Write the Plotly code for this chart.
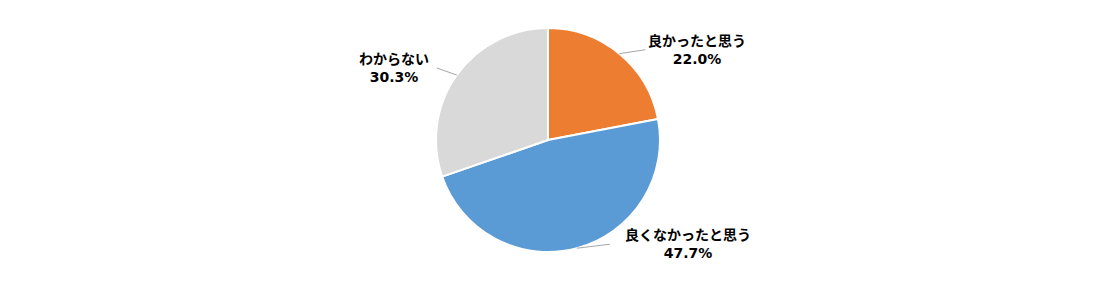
import math
import plotly.graph_objects as go

labels = ["良かったと思う", "良くなかったと思う", "わからない"]
values = [22.0, 47.7, 30.3]
colors = ["#ED7D31", "#5B9BD5", "#D9D9D9"]

W, H = 1099, 296
cx, cy, r = 548, 140, 112

# label layout (pixel offsets of line end and label center from slice edge point)
line_end = [(26, -4), (33, -4), (-20, -7)]
label_center = [(78, -4), (111, -4), (-63, -7)]

def px(x):
    return x / W

def py(y):
    return 1 - y / H

fig = go.Figure(go.Pie(
    labels=labels, values=values, sort=False, direction="clockwise", rotation=0,
    marker=dict(colors=colors, line=dict(color="white", width=2)),
    textinfo="none", hoverinfo="label+percent", showlegend=False,
    domain=dict(x=[px(cx - r), px(cx + r)], y=[py(cy + r), py(cy - r)]),
))

total = sum(values)
cum = 0
shapes, annotations = [], []
for i, v in enumerate(values):
    mid = (cum + v / 2) / total * 2 * math.pi
    cum += v
    ex = cx + r * math.sin(mid)
    ey = cy - r * math.cos(mid)
    lx, ly = ex + line_end[i][0], ey + line_end[i][1]
    shapes.append(dict(type="line", xref="paper", yref="paper",
                       x0=px(ex), y0=py(ey), x1=px(lx), y1=py(ly),
                       line=dict(color="#A6A6A6", width=1)))
    tx, ty = ex + label_center[i][0], ey + label_center[i][1]
    annotations.append(dict(
        x=px(tx), y=py(ty), xref="paper", yref="paper", showarrow=False,
        xanchor="center", yanchor="middle", align="center",
        text=f"<b>{labels[i]}<br>{v:.1f}%</b>",
        font=dict(size=14, color="#000000", family="DejaVu Sans, Noto Sans CJK JP"),
    ))

fig.update_layout(
    width=W, height=H, margin=dict(l=0, r=0, t=0, b=0),
    paper_bgcolor="white", plot_bgcolor="white",
    shapes=shapes, annotations=annotations,
)
fig.write_html("out.html")
